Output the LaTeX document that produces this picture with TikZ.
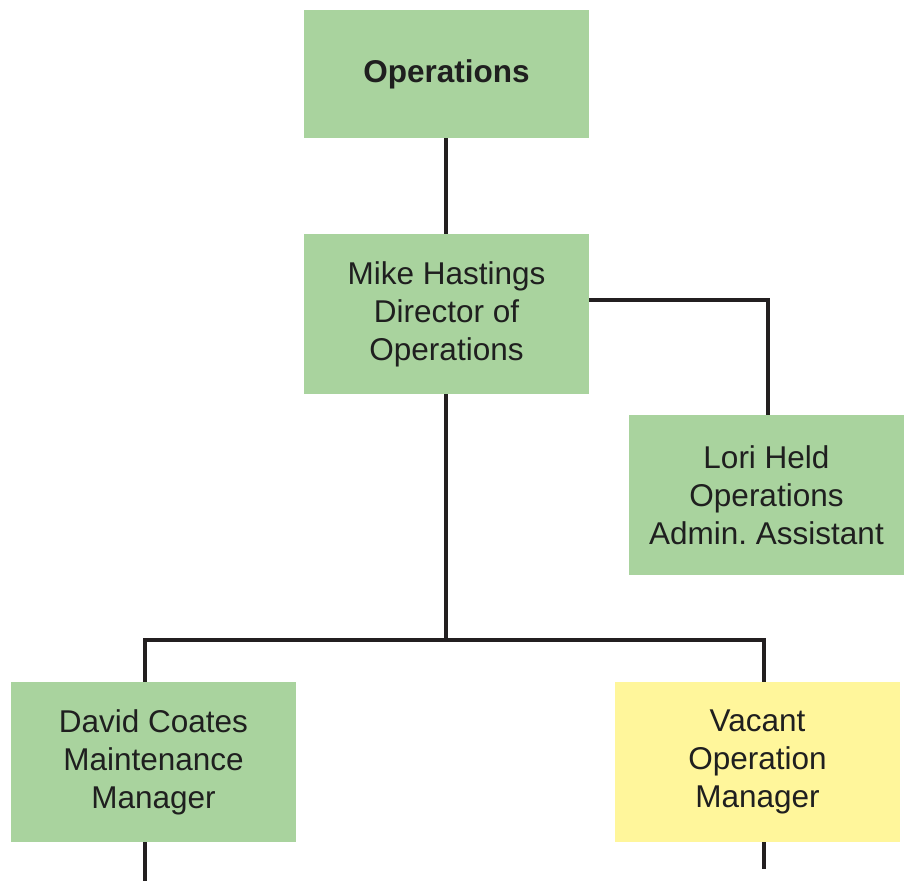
\documentclass[tikz,border=0pt]{standalone}
\usepackage{fontspec}
\setmainfont{Liberation Sans}
\frenchspacing
\begin{document}
\begin{tikzpicture}[x=1pt,y=-1pt,
  box/.style={minimum width=285pt,minimum height=160pt,inner sep=0pt,
    align=center,font=\fontsize{31.5}{38}\selectfont,text=black!88},
  filled/.style={box,fill=boxgreen},
  vacantbox/.style={box,fill=boxyellow},
  link/.style={draw=linegray,line width=4pt}]
\definecolor{boxgreen}{HTML}{A9D39E}
\definecolor{boxyellow}{HTML}{FFF69B}
\definecolor{linegray}{HTML}{231F20}
\useasboundingbox (0,0) rectangle (904,881);
% boxes
\node[filled,minimum height=128pt] (ops) at (446.5,74) {\textbf{Operations}};
\node[filled] (mike) at (446.5,314) {Mike Hastings\\Director of\\Operations};
\node[filled,minimum width=275pt] (lori) at (766.5,495) {Lori Held\\Operations\\Admin. Assistant};
\node[filled] (david) at (153.5,762) {David Coates\\Maintenance\\Manager};
\node[vacantbox] (vacant) at (757.5,762) {Vacant\\Operation\\Manager};
% reporting lines
\coordinate (bus) at (446,640);
\coordinate (dend) at (145,881);
\coordinate (vend) at (764,869);
\draw[link] (ops.south -| 446,0) -- (mike.north -| 446,0);
\draw[link] (mike.east |- 0,300) -| (lori.north -| 768,0);
\draw[link] (mike.south -| 446,0) -- (bus);
\draw[link] (david.north -| 145,0) |- (bus) -| (vacant.north -| 764,0);
\draw[link] (david.south -| 145,0) -- (dend);
\draw[link] (vacant.south -| 764,0) -- (vend);
\end{tikzpicture}
\end{document}
